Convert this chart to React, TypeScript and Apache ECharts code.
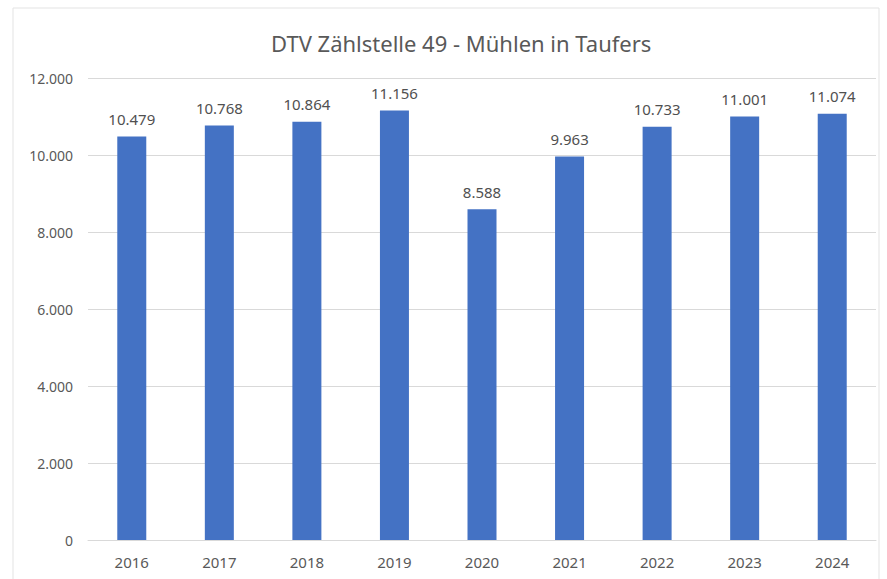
import React, { useEffect, useRef } from "react";
import * as echarts from "echarts";

const categories = ["2016", "2017", "2018", "2019", "2020", "2021", "2022", "2023", "2024"];
const values = [10479, 10768, 10864, 11156, 8588, 9963, 10733, 11001, 11074];
const yTicks = [0, 2000, 4000, 6000, 8000, 10000, 12000];
const titleText = "DTV Zählstelle 49 - Mühlen in Taufers";

const fmt = (v: number) => {
  const s = Math.round(v).toString();
  return s.replace(/\B(?=(\d{3})+(?!\d))/g, ".");
};

export default function App() {
  const ref = useRef<HTMLDivElement>(null);
  useEffect(() => {
    document.body.style.margin = "0";
    const chart = echarts.init(ref.current!, null, { renderer: "svg" });
    const font = "'Noto Sans', 'Open Sans', sans-serif";
    chart.setOption({
      animation: false,
      backgroundColor: "#ffffff",
      title: {
        text: titleText,
        left: 266,
        top: 27,
        textStyle: { fontFamily: font, fontSize: 22, fontWeight: "normal", color: "#595959" },
      },
      graphic: [
        {
          type: "rect",
          shape: { x: 13, y: 8, width: 866, height: 600 },
          style: { fill: "none", stroke: "#e3e3e3", lineWidth: 1 },
          silent: true,
          z: -1,
        },
      ],
      grid: { left: 88, right: 11, top: 78, bottom: 39, containLabel: false },
      xAxis: {
        type: "category",
        data: categories,
        axisTick: { show: false },
        axisLine: { show: true, lineStyle: { color: "#d9d9d9", width: 1 } },
        axisLabel: { fontFamily: font, fontSize: 15, color: "#595959", margin: 14 },
      },
      yAxis: {
        type: "value",
        min: yTicks[0],
        max: yTicks[yTicks.length - 1],
        interval: 2000,
        axisLine: { show: false },
        axisTick: { show: false },
        splitLine: { lineStyle: { color: "#d9d9d9", width: 1 } },
        axisLabel: {
          fontFamily: font,
          fontSize: 14,
          color: "#595959",
          margin: 15,
          formatter: (v: number) => fmt(v),
        },
      },
      series: [
        {
          type: "bar",
          data: values,
          barWidth: 29,
          itemStyle: { color: "#4472C4" },
          label: {
            show: true,
            position: "top",
            distance: 10,
            fontFamily: font,
            fontSize: 15,
            color: "#505050",
            formatter: (p: any) => fmt(p.value),
          },
        },
      ],
    });
    return () => chart.dispose();
  }, []);
  return <div ref={ref} style={{ width: 887, height: 579 }} />;
}
